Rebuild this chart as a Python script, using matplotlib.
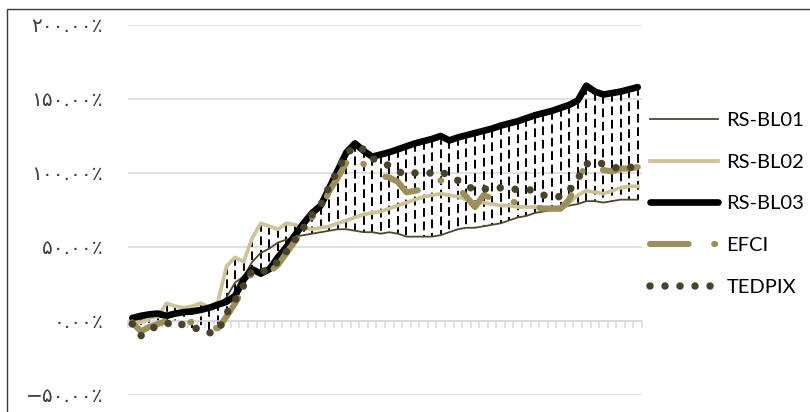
import numpy as np
import matplotlib

matplotlib.use("Agg")
import matplotlib.pyplot as plt
from matplotlib.patches import Rectangle

# cumulative returns (%) per period
periods = np.arange(60)
rs_bl01 = [0, 1, 2, 3, 2, 4, 5, 6, 7, 9, 11, 16, 26, 30, 40, 46, 49, 53, 55, 57,
           58, 59, 60, 61, 62, 62, 61, 60, 60, 59, 60, 59, 57, 57, 57, 57, 58, 60, 62, 63,
           63, 64, 65, 66, 68, 70, 71, 73, 74, 75, 76, 78, 79, 81, 81, 80, 81, 82, 82, 82]
rs_bl02 = [0, -1, 2, 3, 12, 10, 9, 10, 12, 9, 13, 37, 43, 40, 56, 66, 64, 62, 66, 65,
           63, 62, 63, 64, 66, 68, 70, 72, 73, 74, 76, 78, 80, 82, 84, 85, 86, 85, 84, 82,
           80, 80, 79, 78, 78, 77, 77, 77, 76, 75, 75, 80, 85, 88, 87, 86, 88, 90, 91, 91]
rs_bl03 = [2, 3.5, 4.5, 5, 3.5, 5, 6, 6.5, 7.5, 9, 11, 13, 17, 28, 35, 32, 35, 43, 50, 58,
           66, 73, 78, 90, 102, 114, 120, 115, 111, 112.5, 114, 116, 118, 120, 121.5, 123, 125, 122, 124, 125.5,
           127, 128.5, 130, 132, 133.5, 135, 137, 139, 140.5, 142, 144, 146, 149, 159, 155, 153, 154, 155, 156.5, 158]
efci = [-1, -7, -4, -2, 0, 1, 0, -1, -2, -4, -5, 3, 12, 22, 33, 32, 33, 38, 46, 54,
        62, 70, 75, 88, 97, 107, 113, 106, 100, 98, 97, 94, 87, 88, 89, 90, 95, 94, 90, 84,
        77, 85, 83, 82, 81, 80, 79, 77, 76, 76, 76, 82, 95, 106, 103, 102, 101, 103, 103, 104]
tedpix = [-2, -10, -6, -3, -2, 0, -3, -5, -5, -8, -7, 5, 14, 24, 34, 33, 35, 40, 47, 55,
          63, 72, 78, 91, 102, 113, 118, 116, 110, 107, 105, 101, 99, 100, 100, 100, 101, 98, 95, 91,
          89, 89, 90, 90, 89, 89, 89, 88, 85, 84, 84, 88, 96, 106, 108, 106, 104, 103, 104, 103]

series_names = ["RS-BL01", "RS-BL02", "RS-BL03", "EFCI", "TEDPIX"]

ytick_values = [-50, 0, 50, 100, 150, 200]
ytick_labels = ["−۵۰.۰۰٪", "۰.۰۰٪", "۵۰.۰۰٪", "۱۰۰.۰۰٪", "۱۵۰.۰۰٪", "۲۰۰.۰۰٪"]

grid_color = "#d9d9d9"

fig = plt.figure(figsize=(8.1, 4.12), dpi=100)
ax = fig.add_axes([128 / 810, 17 / 412, 514 / 810, 370 / 412])

# high-low lines spanning all five series at each period
all_series = np.array([rs_bl01, rs_bl02, rs_bl03, efci, tedpix], dtype=float)
highs = all_series.max(axis=0)
lows = all_series.min(axis=0)
ax.vlines(periods, highs, lows, colors="black", linewidth=1.4,
          linestyles=(0, (4.5, 2.4)), zorder=2)

ax.plot(periods, rs_bl01, color="#4e4731", linewidth=1.3, zorder=3, label=series_names[0])
ax.plot(periods, rs_bl02, color="#cdc29a", linewidth=2.7, zorder=3, label=series_names[1])
ax.plot(periods, rs_bl03, color="black", linewidth=4.8, zorder=3,
        solid_capstyle="round", label=series_names[2])
ax.plot(periods, efci, color="#9d8f5b", linewidth=4.4, zorder=4,
        linestyle=(0, (6.3, 4.2, 0.15, 4.2)), dash_capstyle="round", label=series_names[3])
ax.plot(periods, tedpix, color="#4a432b", linewidth=5.4, zorder=5,
        linestyle=(0, (0.001, 2.0)), dash_capstyle="round", label=series_names[4])

ax.set_xlim(-0.5, len(periods) - 0.5)
ax.set_ylim(-50, 200)

ax.set_yticks(ytick_values)
ax.set_yticklabels(ytick_labels, fontsize=14.5, color="#404040", family="DejaVu Sans")
ax.tick_params(axis="y", length=0, pad=18)
ax.yaxis.grid(True, color=grid_color, linewidth=1.1)
ax.set_axisbelow(True)

ax.set_xticks(np.arange(-0.5, len(periods), 1))
ax.set_xticklabels([])
ax.tick_params(axis="x", length=5, width=1.1, color=grid_color, direction="out")

for side in ["top", "right", "left"]:
    ax.spines[side].set_visible(False)
ax.spines["bottom"].set_position(("data", 0))
ax.spines["bottom"].set_color(grid_color)
ax.spines["bottom"].set_linewidth(1.1)

ax.legend(loc="upper left", bbox_to_anchor=(650 / 810, 1 - 112 / 412),
          bbox_transform=fig.transFigure, frameon=False,
          prop={"family": "Lato", "size": 14.5}, handlelength=3.4,
          handletextpad=0.4, labelspacing=1.22, borderpad=0, borderaxespad=0)

fig.patches.append(Rectangle((7 / 810, -0.2), 1.2, 1.2 - 9 / 412,
                             transform=fig.transFigure, fill=False,
                             edgecolor="#3a3a3a", linewidth=1.0))

fig.savefig("out.png", dpi=100)
